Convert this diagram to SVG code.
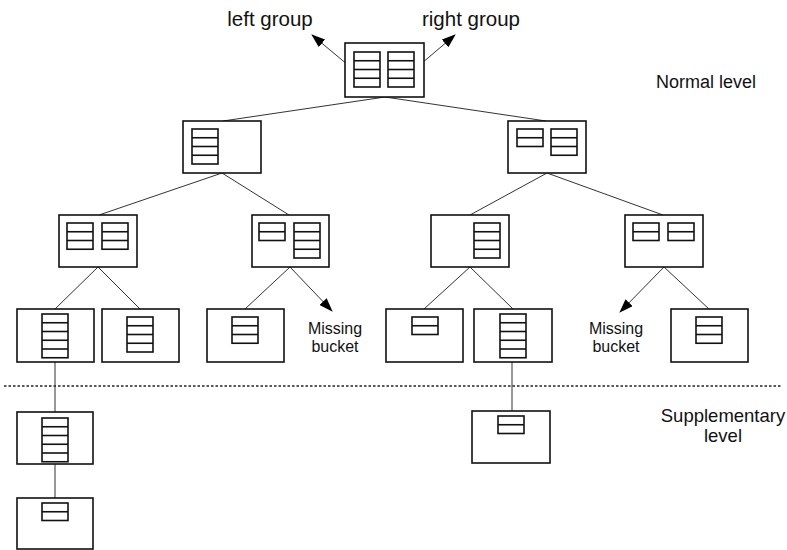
<svg xmlns="http://www.w3.org/2000/svg" xmlns:xlink="http://www.w3.org/1999/xlink" width="787" height="550" viewBox="0 0 787 550">
<style>
.box{fill:#fff;stroke:#111;stroke-width:1.6}
.tb{fill:#fff;stroke:#111;stroke-width:1.6}
.rl{stroke:#111;stroke-width:1.6}
.cn{stroke:#333;stroke-width:1;fill:none}
.ar{stroke:#333;stroke-width:1;fill:none;marker-end:url(#ah)}
.txt{font-family:"Liberation Sans",Arial,sans-serif;fill:#111}
</style>
<defs>
<marker id="ah" viewBox="0 0 14 10" refX="13" refY="5" markerWidth="14" markerHeight="10" markerUnits="userSpaceOnUse" orient="auto">
<path d="M0,0 L14,5 L0,10 Z" fill="#000"/>
</marker>
<g id="t2"><rect class="tb" x="0" y="0" width="26" height="17.5"/><line class="rl" x1="0" y1="8.75" x2="26" y2="8.75"/></g>
<g id="t3"><rect class="tb" x="0" y="0" width="26" height="26.25"/><line class="rl" x1="0" y1="8.75" x2="26" y2="8.75"/><line class="rl" x1="0" y1="17.5" x2="26" y2="17.5"/></g>
<g id="t4"><rect class="tb" x="0" y="0" width="26" height="35"/><line class="rl" x1="0" y1="8.75" x2="26" y2="8.75"/><line class="rl" x1="0" y1="17.5" x2="26" y2="17.5"/><line class="rl" x1="0" y1="26.25" x2="26" y2="26.25"/></g>
<g id="t5"><rect class="tb" x="0" y="0" width="26" height="43.75"/><line class="rl" x1="0" y1="8.75" x2="26" y2="8.75"/><line class="rl" x1="0" y1="17.5" x2="26" y2="17.5"/><line class="rl" x1="0" y1="26.25" x2="26" y2="26.25"/><line class="rl" x1="0" y1="35" x2="26" y2="35"/></g>
</defs>
<rect width="787" height="550" fill="#fff"/>
<g id="connectors">
<line class="ar" x1="354" y1="70" x2="312" y2="35"/>
<line class="ar" x1="415" y1="69" x2="455" y2="35"/>
<line class="cn" x1="385" y1="97" x2="223" y2="121"/>
<line class="cn" x1="385" y1="97" x2="546" y2="121"/>
<line class="cn" x1="222" y1="173" x2="99" y2="215"/>
<line class="cn" x1="222" y1="173" x2="289" y2="215"/>
<line class="cn" x1="547" y1="173" x2="470" y2="215"/>
<line class="cn" x1="547" y1="173" x2="663" y2="215"/>
<line class="cn" x1="98" y1="267" x2="55" y2="309"/>
<line class="cn" x1="98" y1="267" x2="140" y2="309"/>
<line class="cn" x1="290" y1="267" x2="245" y2="309"/>
<line class="ar" x1="290" y1="267" x2="332" y2="311"/>
<line class="cn" x1="470" y1="267" x2="424" y2="309"/>
<line class="cn" x1="470" y1="267" x2="513" y2="309"/>
<line class="ar" x1="664" y1="267" x2="620" y2="312"/>
<line class="cn" x1="664" y1="267" x2="709" y2="309"/>
<line class="cn" x1="55" y1="362" x2="55" y2="412"/>
<line class="cn" x1="55" y1="464" x2="55" y2="498"/>
<line class="cn" x1="512" y1="362" x2="512" y2="411"/>
</g>
<line x1="4" y1="386" x2="782" y2="386" stroke="#222" stroke-width="1.6" stroke-dasharray="2.5,2"/>
<g id="root"><rect class="box" x="345" y="43" width="79" height="54"/><use href="#t4" x="354" y="52"/><use href="#t4" x="388" y="52"/></g>
<g id="l2-left"><rect class="box" x="183" y="121" width="78" height="52"/><use href="#t4" x="192" y="129"/></g>
<g id="l2-right"><rect class="box" x="508" y="121" width="78" height="52"/><use href="#t2" x="517" y="129"/><use href="#t3" x="551" y="129"/></g>
<g id="l3-a"><rect class="box" x="59" y="215" width="78" height="52"/><use href="#t3" x="67" y="223"/><use href="#t3" x="102" y="223"/></g>
<g id="l3-b"><rect class="box" x="252" y="215" width="77" height="52"/><use href="#t2" x="259" y="223"/><use href="#t4" x="294" y="223"/></g>
<g id="l3-c"><rect class="box" x="431" y="215" width="78" height="52"/><use href="#t4" x="474" y="223"/></g>
<g id="l3-d"><rect class="box" x="625" y="215" width="78" height="52"/><use href="#t2" x="633" y="223"/><use href="#t2" x="668" y="223"/></g>
<g id="l4-e"><rect class="box" x="17" y="309" width="77" height="53"/><use href="#t5" x="42" y="314"/></g>
<g id="l4-f"><rect class="box" x="102" y="309" width="77" height="53"/><use href="#t4" x="127" y="317"/></g>
<g id="l4-g"><rect class="box" x="207" y="309" width="77" height="53"/><use href="#t3" x="232" y="317"/></g>
<g id="l4-h"><rect class="box" x="386" y="309" width="77" height="53"/><use href="#t2" x="412" y="317"/></g>
<g id="l4-i"><rect class="box" x="474" y="309" width="78" height="53"/><use href="#t5" x="500" y="314"/></g>
<g id="l4-j"><rect class="box" x="671" y="309" width="77" height="53"/><use href="#t3" x="696" y="317"/></g>
<g id="s-k"><rect class="box" x="17" y="412" width="76" height="52"/><use href="#t5" x="42" y="418"/></g>
<g id="s-l"><rect class="box" x="17" y="498" width="76" height="51"/><use href="#t2" x="42" y="503"/></g>
<g id="s-m"><rect class="box" x="472" y="411" width="78" height="52"/><use href="#t2" x="498" y="416"/></g>
<g id="labels">
<text class="txt" x="270" y="26" font-size="20.5" text-anchor="middle">left group</text>
<text class="txt" x="471" y="26" font-size="20.5" text-anchor="middle">right group</text>
<text class="txt" x="706" y="88" font-size="18" text-anchor="middle">Normal level</text>
<text class="txt" x="723" y="422" font-size="18.5" text-anchor="middle">Supplementary</text>
<text class="txt" x="723" y="442" font-size="18.5" text-anchor="middle">level</text>
<text class="txt" x="335" y="334" font-size="16" text-anchor="middle">Missing</text>
<text class="txt" x="335" y="352" font-size="16" text-anchor="middle">bucket</text>
<text class="txt" x="616" y="334" font-size="16" text-anchor="middle">Missing</text>
<text class="txt" x="616" y="352" font-size="16" text-anchor="middle">bucket</text>
</g>
</svg>
